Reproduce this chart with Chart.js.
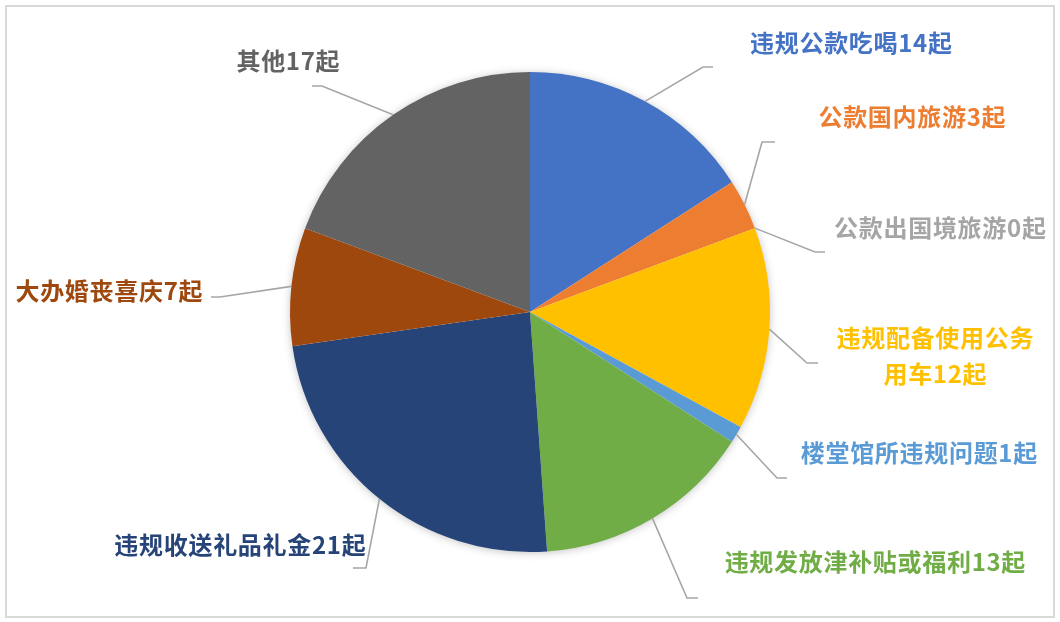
<!DOCTYPE html>
<html>
<head>
<meta charset="utf-8">
<script src="https://cdn.jsdelivr.net/npm/chart.js@4"></script>
<style>
html,body{margin:0;padding:0;background:#fff;}
#wrap{width:1060px;height:622px;position:relative;}
</style>
</head>
<body>
<div id="wrap"><canvas id="c" width="1060" height="622"></canvas></div>
<script>
// ---- data ----
const categories = ['违规公款吃喝', '公款国内旅游', '公款出国境旅游', '违规配备使用公务用车', '楼堂馆所违规问题', '违规发放津补贴或福利', '违规收送礼品礼金', '大办婚丧喜庆', '其他'];
const counts = [14, 3, 0, 12, 1, 13, 21, 7, 17];
const unit = '起';
const colors = ['#4472C4', '#ED7D31', '#A5A5A5', '#FFC000', '#5B9BD5', '#70AD47', '#264478', '#9E480E', '#636363'];

// ---- label layout (offsets from pie centre, px): elbow point, horizontal end, text centre, text lines split ----
const labelLayout = [
  {elbow:[173,-245], end:[183,-245], text:[321,-269]},
  {elbow:[232,-170], end:[245,-170], text:[382,-195]},
  {elbow:[285,-60],  end:[295,-60],  text:[410,-84]},
  {elbow:[277,51],   end:[288,51],   text:[405,26], split:8, lineGap:36},
  {elbow:[247,166],  end:[257,166],  text:[389,141]},
  {elbow:[157,286],  end:[168,286],  text:[345,250]},
  {elbow:[-164,256], end:[-177,256], text:[-290,233]},
  {elbow:[-310,-15], end:[-319,-15], text:[-421,-21]},
  {elbow:[-208,-226],end:[-218,-226],text:[-242,-251]}
];

const labelPlugin = {
  id: 'outLabels',
  beforeDatasetsDraw(chart) {
    const ctx = chart.ctx;
    const arc0 = chart.getDatasetMeta(0).data[0];
    if (!arc0) return;
    ctx.save();
    ctx.beginPath();
    ctx.arc(arc0.x, arc0.y, arc0.outerRadius - 1, 0, Math.PI * 2);
    ctx.shadowColor = 'rgba(0,0,0,0.28)';
    ctx.shadowBlur = 10;
    ctx.shadowOffsetX = 0;
    ctx.shadowOffsetY = 1;
    ctx.fillStyle = '#ffffff';
    ctx.fill();
    ctx.restore();
  },
  afterDatasetsDraw(chart) {
    const ctx = chart.ctx;
    const meta = chart.getDatasetMeta(0);
    ctx.save();
    meta.data.forEach((arc, i) => {
      const L = labelLayout[i];
      const cx = arc.x, cy = arc.y, r = arc.outerRadius;
      const mid = (arc.startAngle + arc.endAngle) / 2;
      const sx = cx + Math.cos(mid) * r, sy = cy + Math.sin(mid) * r;
      ctx.beginPath();
      ctx.moveTo(sx, sy);
      ctx.lineTo(cx + L.elbow[0], cy + L.elbow[1]);
      ctx.lineTo(cx + L.end[0], cy + L.end[1]);
      ctx.strokeStyle = '#A6A6A6';
      ctx.lineWidth = 1.6;
      ctx.stroke();

      const full = categories[i] + counts[i] + unit;
      const lines = L.split ? [full.slice(0, L.split), full.slice(L.split)] : [full];
      ctx.fillStyle = colors[i];
      ctx.font = 'bold 24px "Noto Sans CJK SC", "Noto Sans", sans-serif';
      if ('letterSpacing' in ctx) ctx.letterSpacing = '0.7px';
      ctx.textAlign = 'center';
      ctx.textBaseline = 'middle';
      lines.forEach((t, k) => {
        ctx.fillText(t, cx + L.text[0] + 0.35, cy + L.text[1] + k * (L.lineGap || 0));
      });
    });
    ctx.restore();
  },
  afterDraw(chart) {
    const ctx = chart.ctx;
    ctx.save();
    ctx.strokeStyle = '#D9D9D9';
    ctx.lineWidth = 2;
    ctx.strokeRect(6, 6, 1048, 611);
    ctx.restore();
  }
};

new Chart(document.getElementById('c'), {
  type: 'pie',
  data: {
    labels: categories,
    datasets: [{
      data: counts,
      backgroundColor: colors,
      borderWidth: 0,
      radius: 240
    }]
  },
  options: {
    responsive: false,
    animation: false,
    devicePixelRatio: 1,
    layout: { padding: { left: 290, right: 290, top: 72, bottom: 70 } },
    plugins: {
      legend: { display: false },
      tooltip: { enabled: false }
    }
  },
  plugins: [labelPlugin]
});
</script>
</body>
</html>
